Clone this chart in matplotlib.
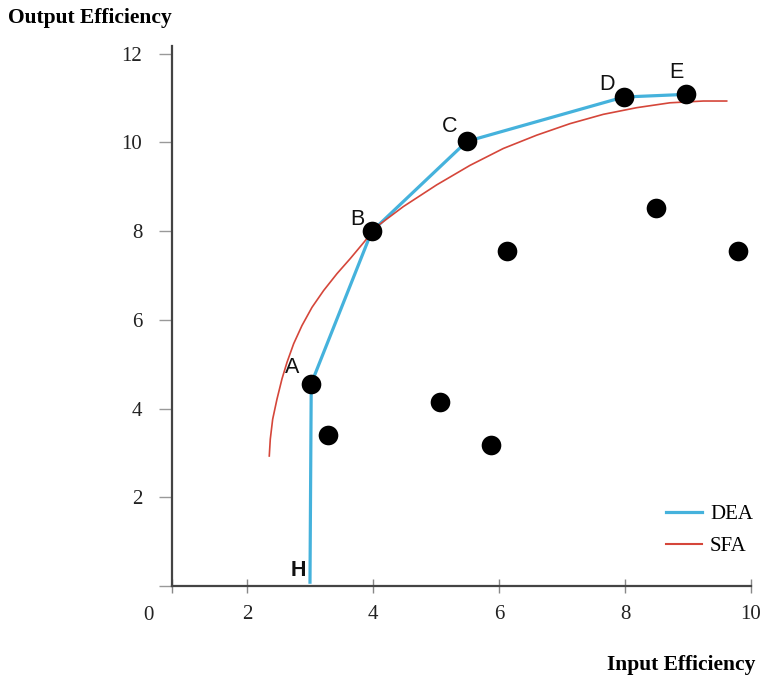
import matplotlib
matplotlib.use("Agg")
import matplotlib.pyplot as plt
from matplotlib.lines import Line2D

# Data points (input, output)
pt_x = [3.02, 3.98, 5.49, 7.98, 8.97, 3.29, 5.06, 5.87, 6.13, 8.49, 9.79]
pt_y = [4.56, 7.99, 10.02, 11.02, 11.08, 3.41, 4.15, 3.18, 7.54, 8.53, 7.56]

# DEA frontier: H -> A -> B -> C -> D -> E
dea_x = [3.0, 3.02, 3.98, 5.49, 7.98, 8.97]
dea_y = [0.05, 4.56, 7.99, 10.02, 11.02, 11.08]

# SFA frontier points
sfa_x = [2.354, 2.370, 2.408, 2.476, 2.556, 2.635, 2.741, 2.873, 3.032, 3.217,
         3.429, 3.640, 3.852, 3.984, 4.059, 4.481, 5.011, 5.540, 6.068, 6.598,
         7.127, 7.656, 8.186, 8.714, 9.243, 9.614]
sfa_y = [2.93, 3.31, 3.76, 4.21, 4.67, 5.04, 5.46, 5.87, 6.28, 6.66,
         7.04, 7.38, 7.74, 7.97, 8.10, 8.55, 9.04, 9.48, 9.86, 10.16,
         10.42, 10.63, 10.78, 10.89, 10.93, 10.93]

# Point labels
lab_names = ["A", "B", "C", "D", "E", "H"]
lab_x = [2.72, 3.76, 5.22, 7.72, 8.81, 2.81]
lab_y = [4.92, 8.26, 10.35, 11.31, 11.58, 0.35]

x_ticks = [2, 4, 6, 8, 10]
y_ticks = [0, 2, 4, 6, 8, 10, 12]

W, H = 761, 681
fig = plt.figure(figsize=(W / 100, H / 100), dpi=100)
x_left, x_right = 0.81, 10.0
y_bot, y_top = 0.0, 12.17
ax = fig.add_axes([172 / W, 1 - 586 / H, (751 - 172) / W, (586 - 46) / H])
ax.set_xlim(x_left, x_right)
ax.set_ylim(y_bot, y_top)

blue = "#45B2DC"
red = "#D5463A"
ax.plot(dea_x, dea_y, color=blue, lw=2.3, zorder=2, solid_capstyle="butt")
ax.plot(sfa_x, sfa_y, color=red, lw=1.2, zorder=3, solid_joinstyle="round")
ax.scatter(pt_x, pt_y, s=200, color="black", zorder=4, linewidths=0)

for n, x, y in zip(lab_names, lab_x, lab_y):
    ax.text(x, y, n, fontsize=15.5, family="Liberation Sans",
            fontweight="bold" if n == "H" else "normal",
            ha="center", va="center", color="#111111", zorder=5)

for s in ["top", "right"]:
    ax.spines[s].set_visible(False)
for s in ["left", "bottom"]:
    ax.spines[s].set_color("#444444")
    ax.spines[s].set_linewidth(1.6)

ax.set_xticks([x_left] + x_ticks)
ax.set_xticklabels([""] + [str(v) for v in x_ticks])
ax.set_yticks(y_ticks)
ax.set_yticklabels([""] + [str(v) for v in y_ticks[1:]])
ax.tick_params(axis="x", direction="inout", length=10, width=1, color="#888888",
               pad=9, labelsize=15, labelcolor="#222222")
ax.tick_params(axis="y", direction="out", length=9.5, width=1, color="#999999",
               pad=12, labelsize=15, labelcolor="#222222")
for lbl in ax.get_xticklabels() + ax.get_yticklabels():
    lbl.set_family("Liberation Serif")

fig.text(148 / W, 1 - 615 / H, "0", fontsize=15, family="Liberation Serif",
         ha="center", va="center", color="#222222")
fig.text(8 / W, 1 - 18 / H, "Output Efficiency", fontsize=15.5, family="Liberation Serif",
         fontweight="bold", ha="left", va="center")
fig.text(755 / W, 1 - 665 / H, "Input Efficiency", fontsize=15.5, family="Liberation Serif",
         fontweight="bold", ha="right", va="center")

handles = [Line2D([0], [0], color=blue, lw=2.3), Line2D([0], [0], color=red, lw=1.5)]
leg = fig.legend(handles, ["DEA", "SFA"], loc="upper left",
                 bbox_to_anchor=(660 / W, 1 - 498 / H), frameon=False,
                 prop={"family": "Liberation Serif", "size": 15},
                 handlelength=1.7, handletextpad=0.4, labelspacing=0.6,
                 borderaxespad=0, borderpad=0.3)

fig.savefig("out.png", dpi=100, facecolor="white")
